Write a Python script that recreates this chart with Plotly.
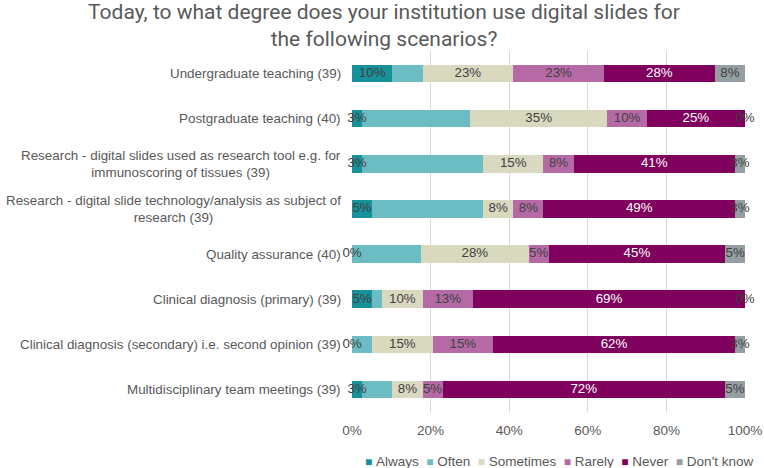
import plotly.graph_objects as go

categories = [
    "Undergraduate teaching (39)",
    "Postgraduate teaching (40)",
    "Research - digital slides used as research tool e.g. for<br>immunoscoring of tissues (39)",
    "Research - digital slide technology/analysis as subject of<br>research (39)",
    "Quality assurance (40)",
    "Clinical diagnosis (primary) (39)",
    "Clinical diagnosis (secondary) i.e. second opinion (39)",
    "Multidisciplinary team meetings (39)",
]

always    = [10.26, 2.5, 2.56, 5.13, 0.0, 5.13, 0.0, 2.56]
often     = [7.69, 27.5, 30.77, 28.21, 17.5, 2.56, 5.13, 7.69]
sometimes = [23.08, 35.0, 15.38, 7.69, 27.5, 10.26, 15.38, 7.69]
rarely    = [23.08, 10.0, 7.69, 7.69, 5.0, 12.82, 15.38, 5.13]
never     = [28.21, 25.0, 41.03, 48.72, 45.0, 69.23, 61.54, 71.79]
dont_know = [7.69, 0.0, 2.56, 2.56, 5.0, 0.0, 2.56, 5.13]

series_names = ["Always", "Often", "Sometimes", "Rarely", "Never", "Don't know"]
series_values = [always, often, sometimes, rarely, never, dont_know]
colors = ["#17919a", "#6cbcc4", "#d9d9c0", "#b56aa6", "#80005e", "#959fa3"]
label_colors = ["#404040", None, "#404040", "#404040", "#ffffff", "#404040"]

x_ticks = [0, 20, 40, 60, 80, 100]
x_tick_labels = ["0%", "20%", "40%", "60%", "80%", "100%"]

FONT = "Liberation Sans"
GREY = "#595959"

fig = go.Figure()
for name, vals, col in zip(series_names, series_values, colors):
    fig.add_trace(go.Bar(
        y=categories, x=vals, name=name, orientation="h",
        marker=dict(color=col, line=dict(width=0)),
        hoverinfo="x+name", showlegend=False,
    ))

# data labels at segment centers (computed from the data)
cum = [0.0] * len(categories)
for name, vals, lc in zip(series_names, series_values, label_colors):
    mids = [c + v / 2 for c, v in zip(cum, vals)]
    cum = [c + v for c, v in zip(cum, vals)]
    if lc is None:
        continue
    fig.add_trace(go.Scatter(
        y=categories, x=mids, mode="text",
        text=[f"{round(v + 1e-9):.0f}%" for v in vals],
        textfont=dict(family=FONT, size=13.3, color=lc),
        showlegend=False, hoverinfo="skip", cliponaxis=False,
    ))

# category labels (centred multi-line, right-aligned block)
for cat in categories:
    fig.add_annotation(
        x=0, xref="paper", y=cat, yref="y",
        text=cat, showarrow=False, align="center",
        xanchor="right", yanchor="middle", xshift=-9,
        font=dict(family=FONT, size=13.4, color=GREY),
    )

# legend row (squares + names from the series)
sq = "\u25A0"
nb = "\u00a0"
legend_text = (nb * 2).join(
    f'<span style="color:{c};font-size:12px">{sq}</span>{nb}{n}'
    for n, c in zip(series_names, colors)
)
fig.add_annotation(
    x=0.5255, xref="paper", y=-0.1385, yref="paper",
    text=legend_text, showarrow=False,
    xanchor="center", yanchor="middle",
    font=dict(family=FONT, size=13.5, color=GREY),
)

fig.update_layout(
    barmode="stack",
    bargap=0.61,
    width=764, height=468,
    margin=dict(l=352, r=19, t=51, b=56, autoexpand=False),
    paper_bgcolor="white", plot_bgcolor="white",
    font=dict(family=FONT, size=13.5, color=GREY),
    showlegend=False,
    title=dict(
        text="Today, to what degree does your institution use digital slides for<br>the following scenarios?",
        font=dict(family="Roboto", size=21, color=GREY),
        x=0.5026, xanchor="center", xref="container",
        y=0.96, yanchor="middle", yref="container",
    ),
    xaxis=dict(
        range=[0, 100], tickvals=x_ticks, ticktext=x_tick_labels,
        showgrid=True, gridcolor="#d9d9d9", gridwidth=1,
        zeroline=False, showline=False, ticks="",
        ticklabelstandoff=8,
        tickfont=dict(family=FONT, size=13.5, color=GREY),
    ),
    yaxis=dict(
        categoryorder="array", categoryarray=categories, autorange="reversed",
        showgrid=False, zeroline=False, showline=False, ticks="",
        showticklabels=False,
    ),
)

fig.write_html(
    "out.html",
    config={"displayModeBar": False},
    post_script="document.body.style.margin='0';document.body.style.overflow='hidden';",
)
